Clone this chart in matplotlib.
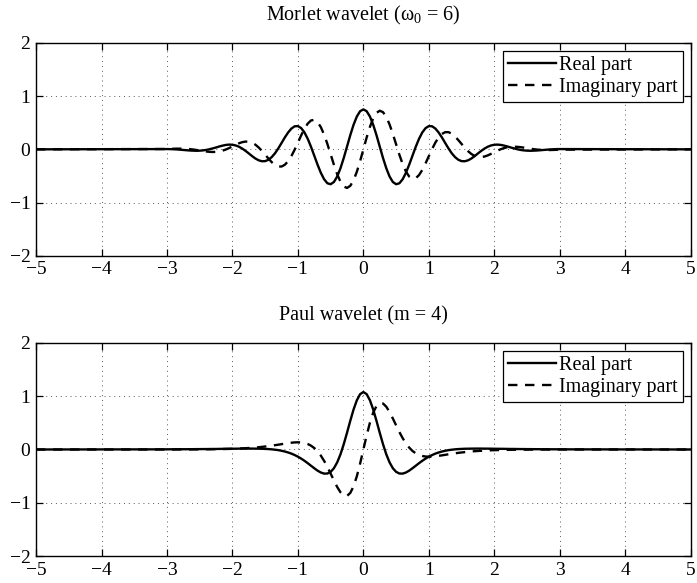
import numpy as np
import matplotlib
matplotlib.use('Agg')
import matplotlib.pyplot as plt

plt.rcParams['font.family'] = ['Liberation Serif', 'DejaVu Serif']
plt.rcParams['mathtext.fontset'] = 'custom'
plt.rcParams['mathtext.rm'] = 'Liberation Serif'
plt.rcParams['mathtext.it'] = 'Liberation Serif:italic'

# sample positions: far ends, then a fine grid from -3 to 3 (step 0.05)
t = np.concatenate([[-5.0], np.linspace(-3, 3, 121), [5.0]])

# Morlet wavelet (omega_0 = 6)
morlet_re = [0.0,
    0.005, 0.004, 0.001, -0.002, -0.007, -0.012, -0.017, -0.022, -0.025, -0.027,
    -0.025, -0.020, -0.011, 0.002, 0.018, 0.035, 0.054, 0.070, 0.083, 0.089,
    0.086, 0.073, 0.049, 0.014, -0.029, -0.077, -0.127, -0.172, -0.206, -0.224,
    -0.222, -0.196, -0.146, -0.074, 0.017, 0.119, 0.223, 0.316, 0.390, 0.433,
    0.437, 0.399, 0.318, 0.198, 0.048, -0.120, -0.288, -0.441, -0.562, -0.638,
    -0.656, -0.614, -0.511, -0.356, -0.163, 0.051, 0.267, 0.462, 0.617, 0.717,
    0.751,
    0.717, 0.617, 0.462, 0.267, 0.051, -0.163, -0.356, -0.511, -0.614, -0.656,
    -0.638, -0.562, -0.441, -0.288, -0.120, 0.048, 0.198, 0.318, 0.399, 0.437,
    0.433, 0.390, 0.316, 0.223, 0.119, 0.017, -0.074, -0.146, -0.196, -0.222,
    -0.224, -0.206, -0.172, -0.127, -0.077, -0.029, 0.014, 0.049, 0.073, 0.086,
    0.089, 0.083, 0.070, 0.054, 0.035, 0.018, 0.002, -0.011, -0.020, -0.025,
    -0.027, -0.025, -0.022, -0.017, -0.012, -0.007, -0.002, 0.001, 0.004, 0.005,
    0.0]

morlet_im = [0.0,
    0.006, 0.009, 0.011, 0.013, 0.013, 0.012, 0.009, 0.004, -0.003, -0.012,
    -0.021, -0.032, -0.041, -0.047, -0.050, -0.048, -0.040, -0.024, -0.003, 0.024,
    0.055, 0.085, 0.114, 0.135, 0.146, 0.143, 0.124, 0.088, 0.036, -0.028,
    -0.101, -0.174, -0.241, -0.293, -0.323, -0.323, -0.290, -0.224, -0.128, -0.007,
    0.127, 0.263, 0.387, 0.484, 0.543, 0.554, 0.512, 0.418, 0.277, 0.102,
    -0.094, -0.290, -0.468, -0.609, -0.699, -0.726, -0.686, -0.582, -0.422, -0.222,
    0.000,
    0.222, 0.422, 0.582, 0.686, 0.726, 0.699, 0.609, 0.468, 0.290, 0.094,
    -0.102, -0.277, -0.418, -0.512, -0.554, -0.543, -0.484, -0.387, -0.263, -0.127,
    0.007, 0.128, 0.224, 0.290, 0.323, 0.323, 0.293, 0.241, 0.174, 0.101,
    0.028, -0.036, -0.088, -0.124, -0.143, -0.146, -0.135, -0.114, -0.085, -0.055,
    -0.024, 0.003, 0.024, 0.040, 0.048, 0.050, 0.047, 0.041, 0.032, 0.021,
    0.012, 0.003, -0.004, -0.009, -0.012, -0.013, -0.013, -0.011, -0.009, -0.006,
    0.0]

# Paul wavelet (m = 4)
paul_re = [0.0,
    0.003, 0.004, 0.004, 0.004, 0.005, 0.005, 0.005, 0.006, 0.006, 0.007,
    0.007, 0.008, 0.008, 0.009, 0.010, 0.010, 0.011, 0.012, 0.013, 0.013,
    0.014, 0.015, 0.016, 0.016, 0.017, 0.017, 0.017, 0.016, 0.015, 0.014,
    0.011, 0.008, 0.003, -0.004, -0.012, -0.024, -0.038, -0.056, -0.077, -0.104,
    -0.135, -0.171, -0.212, -0.257, -0.305, -0.352, -0.397, -0.432, -0.453, -0.451,
    -0.420, -0.352, -0.242, -0.091, 0.099, 0.314, 0.539, 0.751, 0.924, 1.039,
    1.079,
    1.039, 0.924, 0.751, 0.539, 0.314, 0.099, -0.091, -0.242, -0.352, -0.420,
    -0.451, -0.453, -0.432, -0.397, -0.352, -0.305, -0.257, -0.212, -0.171, -0.135,
    -0.104, -0.077, -0.056, -0.038, -0.024, -0.012, -0.004, 0.003, 0.008, 0.011,
    0.014, 0.015, 0.016, 0.017, 0.017, 0.017, 0.016, 0.016, 0.015, 0.014,
    0.013, 0.013, 0.012, 0.011, 0.010, 0.010, 0.009, 0.008, 0.008, 0.007,
    0.007, 0.006, 0.006, 0.005, 0.005, 0.005, 0.004, 0.004, 0.004, 0.003,
    0.0]

paul_im = [0.0,
    0.000, 0.000, 0.000, 0.001, 0.001, 0.001, 0.001, 0.001, 0.002, 0.002,
    0.003, 0.003, 0.004, 0.004, 0.005, 0.006, 0.007, 0.008, 0.010, 0.011,
    0.013, 0.015, 0.018, 0.021, 0.024, 0.028, 0.032, 0.037, 0.042, 0.049,
    0.056, 0.063, 0.072, 0.081, 0.090, 0.100, 0.110, 0.119, 0.127, 0.133,
    0.135, 0.132, 0.122, 0.103, 0.072, 0.027, -0.035, -0.115, -0.213, -0.327,
    -0.453, -0.582, -0.704, -0.803, -0.864, -0.872, -0.816, -0.692, -0.503, -0.265,
    0.000,
    0.265, 0.503, 0.692, 0.816, 0.872, 0.864, 0.803, 0.704, 0.582, 0.453,
    0.327, 0.213, 0.115, 0.035, -0.027, -0.072, -0.103, -0.122, -0.132, -0.135,
    -0.133, -0.127, -0.119, -0.110, -0.100, -0.090, -0.081, -0.072, -0.063, -0.056,
    -0.049, -0.042, -0.037, -0.032, -0.028, -0.024, -0.021, -0.018, -0.015, -0.013,
    -0.011, -0.010, -0.008, -0.007, -0.006, -0.005, -0.004, -0.004, -0.003, -0.003,
    -0.002, -0.002, -0.001, -0.001, -0.001, -0.001, -0.001, 0.000, 0.000, 0.000,
    0.0]

titles = ['Morlet wavelet (ω$_0$ = 6)', 'Paul wavelet (m = 4)']
xticks = [-5, -4, -3, -2, -1, 0, 1, 2, 3, 4, 5]
yticks = [-2, -1, 0, 1, 2]

fig = plt.figure(figsize=(6.97, 5.83), dpi=100)
ax1 = fig.add_axes([0.0517, 0.5614, 0.9393, 0.3649])
ax2 = fig.add_axes([0.0517, 0.0463, 0.9393, 0.3654])

for ax, re, im, title in [(ax1, morlet_re, morlet_im, titles[0]),
                          (ax2, paul_re, paul_im, titles[1])]:
    ax.plot(t, re, color='black', linewidth=1.7, label='Real part')
    ax.plot(t, im, color='black', linewidth=1.7, linestyle=(0, (4, 3.2)),
            label='Imaginary part')
    ax.set_xlim(-5, 5)
    ax.set_ylim(-2, 2)
    ax.set_xticks(xticks)
    ax.set_yticks(yticks)
    ax.tick_params(direction='in', top=True, right=True, length=5,
                   width=0.9, labelsize=14, pad=4)
    ax.grid(True, linestyle=(0, (1, 4)), color='0.35', linewidth=0.7)
    for s in ax.spines.values():
        s.set_linewidth(1.0)
    ax.set_title(title, fontsize=14.5, pad=16)
    leg = ax.legend(loc='upper right', fontsize=14.5, fancybox=False,
                    framealpha=1, edgecolor='black', handlelength=2.4,
                    handletextpad=0.15, borderpad=0.25, labelspacing=0.15,
                    borderaxespad=0.38)
    leg.get_frame().set_linewidth(0.9)

fig.savefig('out.png', dpi=100)
